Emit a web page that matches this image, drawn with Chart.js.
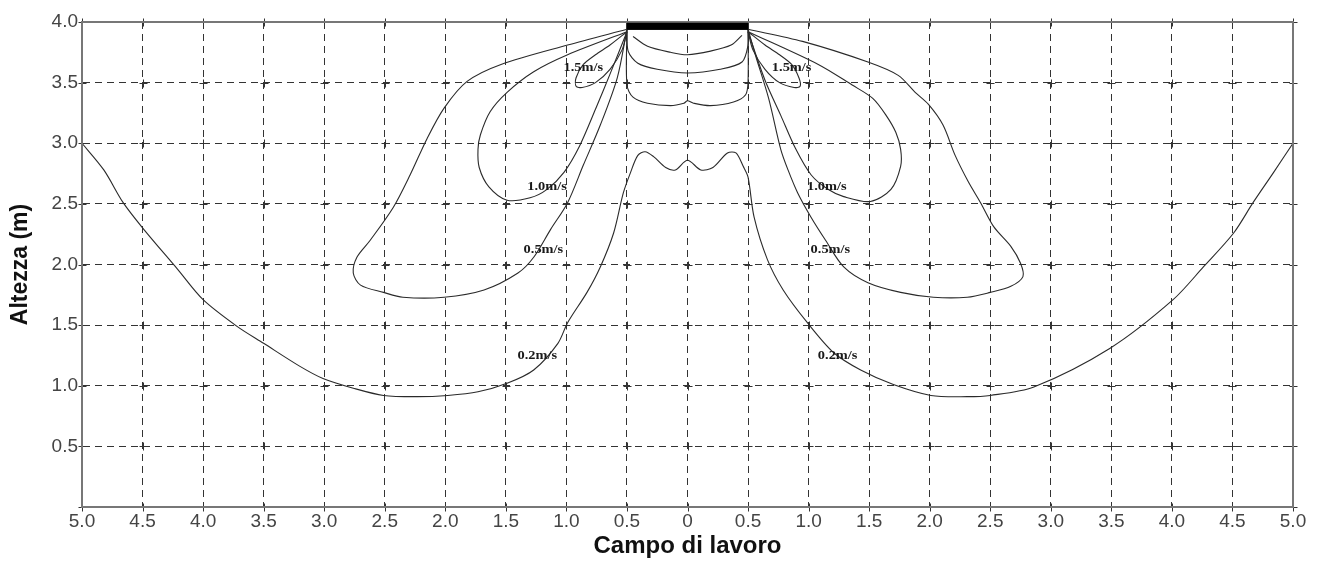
<!DOCTYPE html>
<html>
<head>
<meta charset="utf-8">
<script src="https://cdn.jsdelivr.net/npm/chart.js@4.4.1/dist/chart.umd.min.js"></script>
<style>
  html, body { margin: 0; padding: 0; background: #ffffff; }
  #wrap { width: 1317px; height: 563px; }
</style>
</head>
<body>
<div id="wrap"><canvas id="c" width="1317" height="563"></canvas></div>
<script>
// ---------- axis ticks ----------
const xTickValues = [-5, -4.5, -4, -3.5, -3, -2.5, -2, -1.5, -1, -0.5, 0, 0.5, 1, 1.5, 2, 2.5, 3, 3.5, 4, 4.5, 5];
const yTickValues = [0, 0.5, 1, 1.5, 2, 2.5, 3, 3.5, 4];

// ---------- 0.2 m/s contour (left edge -> centre bump -> right edge) ----------
const c02X = [-5.00, -4.82, -4.66, -4.49, -4.21, -4.00, -3.72, -3.50, -3.20, -3.01, -2.76, -2.51, -2.23, -1.98, -1.73, -1.49, -1.27, -1.07, -0.99, -0.83, -0.72, -0.61, -0.53, -0.47, -0.41, -0.35, -0.28, -0.18, -0.10, 0.00, 0.11, 0.21, 0.33, 0.40, 0.46, 0.50, 0.55, 0.66, 0.79, 0.99, 1.21, 1.43, 1.70, 2.01, 2.31, 2.50, 2.86, 3.49, 4.01, 4.26, 4.51, 4.67, 4.84, 5.00];
const c02Y = [3.00, 2.78, 2.51, 2.29, 1.96, 1.71, 1.49, 1.35, 1.16, 1.06, 0.98, 0.92, 0.91, 0.92, 0.95, 1.02, 1.13, 1.35, 1.52, 1.77, 1.98, 2.26, 2.59, 2.76, 2.90, 2.93, 2.89, 2.80, 2.78, 2.86, 2.78, 2.80, 2.92, 2.92, 2.81, 2.72, 2.39, 2.04, 1.79, 1.52, 1.27, 1.13, 1.01, 0.92, 0.91, 0.92, 0.99, 1.31, 1.71, 1.98, 2.26, 2.51, 2.76, 3.00];

// ---------- 0.5 m/s loops ----------
const c05LX = [-0.50, -0.99, -1.54, -1.82, -2.01, -2.15, -2.29, -2.43, -2.62, -2.73, -2.76, -2.70, -2.51, -2.35, -2.01, -1.68, -1.40, -1.27, -1.13, -0.99, -0.86, -0.72, -0.58, -0.50];
const c05LY = [3.94, 3.81, 3.65, 3.51, 3.29, 3.04, 2.74, 2.47, 2.20, 2.06, 1.93, 1.83, 1.77, 1.73, 1.73, 1.79, 1.93, 2.06, 2.29, 2.51, 2.82, 3.15, 3.54, 3.94];
const c05RX = [0.50, 0.95, 1.49, 1.74, 1.88, 1.99, 2.11, 2.21, 2.32, 2.42, 2.53, 2.67, 2.75, 2.77, 2.67, 2.50, 2.31, 2.03, 1.76, 1.49, 1.29, 1.14, 1.02, 0.91, 0.83, 0.77, 0.67, 0.56, 0.50];
const c05RY = [3.94, 3.84, 3.67, 3.56, 3.42, 3.32, 3.15, 2.90, 2.68, 2.51, 2.31, 2.15, 2.01, 1.90, 1.82, 1.77, 1.73, 1.73, 1.77, 1.85, 1.98, 2.20, 2.39, 2.59, 2.78, 2.95, 3.37, 3.73, 3.94];

// ---------- 1.0 m/s loops ----------
const c10LX = [-0.50, -0.99, -1.27, -1.49, -1.63, -1.71, -1.73, -1.72, -1.64, -1.49, -1.30, -1.16, -1.02, -0.89, -0.76, -0.64, -0.50];
const c10LY = [3.92, 3.73, 3.59, 3.42, 3.26, 3.07, 2.95, 2.80, 2.64, 2.53, 2.55, 2.62, 2.76, 2.98, 3.28, 3.57, 3.92];
const c10RX = [0.50, 1.08, 1.36, 1.53, 1.64, 1.72, 1.76, 1.76, 1.68, 1.51, 1.29, 1.16, 1.02, 0.89, 0.77, 0.64, 0.50];
const c10RY = [3.92, 3.65, 3.48, 3.37, 3.23, 3.09, 2.95, 2.81, 2.62, 2.52, 2.56, 2.62, 2.74, 2.96, 3.23, 3.52, 3.92];

// ---------- 1.5 m/s loops ----------
const c15LX = [-0.50, -0.64, -0.76, -0.86, -0.92, -0.92, -0.87, -0.76, -0.64, -0.54, -0.50];
const c15LY = [3.92, 3.81, 3.73, 3.65, 3.54, 3.47, 3.46, 3.50, 3.61, 3.77, 3.92];
const c15RX = [0.50, 0.64, 0.76, 0.86, 0.92, 0.93, 0.88, 0.76, 0.64, 0.54, 0.50];
const c15RY = [3.92, 3.81, 3.73, 3.65, 3.54, 3.47, 3.46, 3.50, 3.61, 3.77, 3.92];

// ---------- central contours under the outlet ----------
const cInAX = [-0.45, -0.33, -0.14, 0.00, 0.19, 0.36, 0.45];
const cInAY = [3.88, 3.80, 3.75, 3.73, 3.76, 3.81, 3.89];
const cInBX = [-0.50, -0.49, -0.41, -0.25, 0.00, 0.27, 0.45, 0.50, 0.50];
const cInBY = [3.94, 3.76, 3.66, 3.61, 3.58, 3.61, 3.67, 3.81, 3.94];
const cInCX = [-0.50, -0.50, -0.45, -0.33, -0.14, -0.03, 0.00, 0.05, 0.19, 0.38, 0.48, 0.50, 0.50];
const cInCY = [3.94, 3.48, 3.38, 3.33, 3.31, 3.33, 3.35, 3.33, 3.31, 3.34, 3.40, 3.51, 3.94];

// ---------- outlet (thick bar) ----------
const outletX = [-0.5, 0.5];
const outletY = [3.965, 3.965];

// ---------- contour labels ----------
const labelTexts = ['1.5m/s', '1.5m/s', '1.0m/s', '1.0m/s', '0.5m/s', '0.5m/s', '0.2m/s', '0.2m/s'];
const labelX = [-0.86, 0.86, -1.16, 1.15, -1.19, 1.18, -1.24, 1.24];
const labelY = [3.62, 3.62, 2.64, 2.64, 2.12, 2.12, 1.25, 1.25];

const pts = (xs, ys) => xs.map((x, i) => ({ x: x, y: ys[i] }));
const LINE = '#2a2a2a';
function contour(xs, ys) {
  return { data: pts(xs, ys), showLine: true, borderColor: LINE, borderWidth: 1.1,
           pointRadius: 0, tension: 0.3, fill: false };
}

const datasets = [
  contour(c02X, c02Y),
  contour(c05LX, c05LY), contour(c05RX, c05RY),
  contour(c10LX, c10LY), contour(c10RX, c10RY),
  contour(c15LX, c15LY), contour(c15RX, c15RY),
  contour(cInAX, cInAY), contour(cInBX, cInBY), contour(cInCX, cInCY),
  { data: pts(outletX, outletY), showLine: true, borderColor: '#000', borderWidth: 7,
    pointRadius: 0, tension: 0, borderCapStyle: 'butt' }
];

const frameAndLabels = {
  id: 'frameAndLabels',
  beforeDatasetsDraw(chart) {
    const { ctx, scales } = chart;
    // small solid crosses at grid intersections
    ctx.save();
    ctx.strokeStyle = '#333';
    ctx.lineWidth = 1;
    ctx.beginPath();
    xTickValues.forEach(xv => {
      yTickValues.forEach(yv => {
        const px = Math.round(scales.x.getPixelForValue(xv)) + 0.5;
        const py = Math.round(scales.y.getPixelForValue(yv)) + 0.5;
        ctx.moveTo(px - 4, py); ctx.lineTo(px + 4, py);
        ctx.moveTo(px, py - 4); ctx.lineTo(px, py + 4);
      });
    });
    ctx.stroke();
    ctx.restore();
  },
  afterDraw(chart) {
    const { ctx, chartArea, scales } = chart;
    ctx.save();
    ctx.strokeStyle = '#777';
    ctx.lineWidth = 2;
    ctx.strokeRect(chartArea.left, chartArea.top, chartArea.right - chartArea.left, chartArea.bottom - chartArea.top);
    ctx.restore();
    // contour labels
    ctx.save();
    ctx.fillStyle = '#1a1a1a';
    ctx.font = 'bold 12px "Liberation Serif", "DejaVu Serif", serif';
    ctx.textAlign = 'center';
    ctx.textBaseline = 'middle';
    labelTexts.forEach((t, i) => {
      const px = scales.x.getPixelForValue(labelX[i]);
      const py = scales.y.getPixelForValue(labelY[i]);
      ctx.save();
      ctx.translate(px, py);
      ctx.scale(1.2, 1);
      ctx.fillText(t, 0, 0);
      ctx.restore();
    });
    ctx.restore();
    // redraw outlet bar on top of the frame
    ctx.save();
    ctx.strokeStyle = '#000';
    ctx.lineWidth = 7;
    ctx.beginPath();
    ctx.moveTo(scales.x.getPixelForValue(outletX[0]), scales.y.getPixelForValue(outletY[0]));
    ctx.lineTo(scales.x.getPixelForValue(outletX[1]), scales.y.getPixelForValue(outletY[1]));
    ctx.stroke();
    ctx.restore();
  }
};

new Chart(document.getElementById('c'), {
  type: 'scatter',
  data: { datasets: datasets },
  plugins: [frameAndLabels],
  options: {
    responsive: false,
    animation: false,
    layout: { padding: { top: 22, right: 24, left: 0, bottom: 0 } },
    plugins: { legend: { display: false }, tooltip: { enabled: false } },
    scales: {
      x: {
        type: 'linear', min: -5, max: 5,
        afterFit: s => { s.height = 56; },
        afterBuildTicks: s => { s.ticks = xTickValues.map(v => ({ value: v })); },
        ticks: {
          autoSkip: false, maxRotation: 0, minRotation: 0, padding: 3,
          color: '#444', font: { family: '"Liberation Sans", Arial, sans-serif', size: 19 },
          callback: v => (v === 0 ? '0' : Math.abs(v).toFixed(1))
        },
        grid: { color: '#333', lineWidth: 1, drawTicks: false },
        border: { display: true, color: '#777', width: 2, dash: [7, 5] },
        title: {
          display: true, text: 'Campo di lavoro', color: '#111',
          font: { family: '"Liberation Sans", Arial, sans-serif', size: 24, weight: 'bold' },
          padding: { top: 0, bottom: 2 }
        }
      },
      y: {
        type: 'linear', min: 0, max: 4,
        afterFit: s => { s.width = 82; },
        afterBuildTicks: s => { s.ticks = yTickValues.map(v => ({ value: v })); },
        ticks: {
          padding: 4, color: '#444',
          font: { family: '"Liberation Sans", Arial, sans-serif', size: 19 },
          callback: v => (v === 0 ? '' : v.toFixed(1))
        },
        grid: { color: '#333', lineWidth: 1, drawTicks: false },
        border: { display: true, color: '#777', width: 2, dash: [7, 5] },
        title: {
          display: true, text: 'Altezza (m)', color: '#111',
          font: { family: '"Liberation Sans", Arial, sans-serif', size: 23, weight: 'bold' },
          padding: { top: 7, bottom: 0 }
        }
      }
    }
  }
});
</script>
</body>
</html>
